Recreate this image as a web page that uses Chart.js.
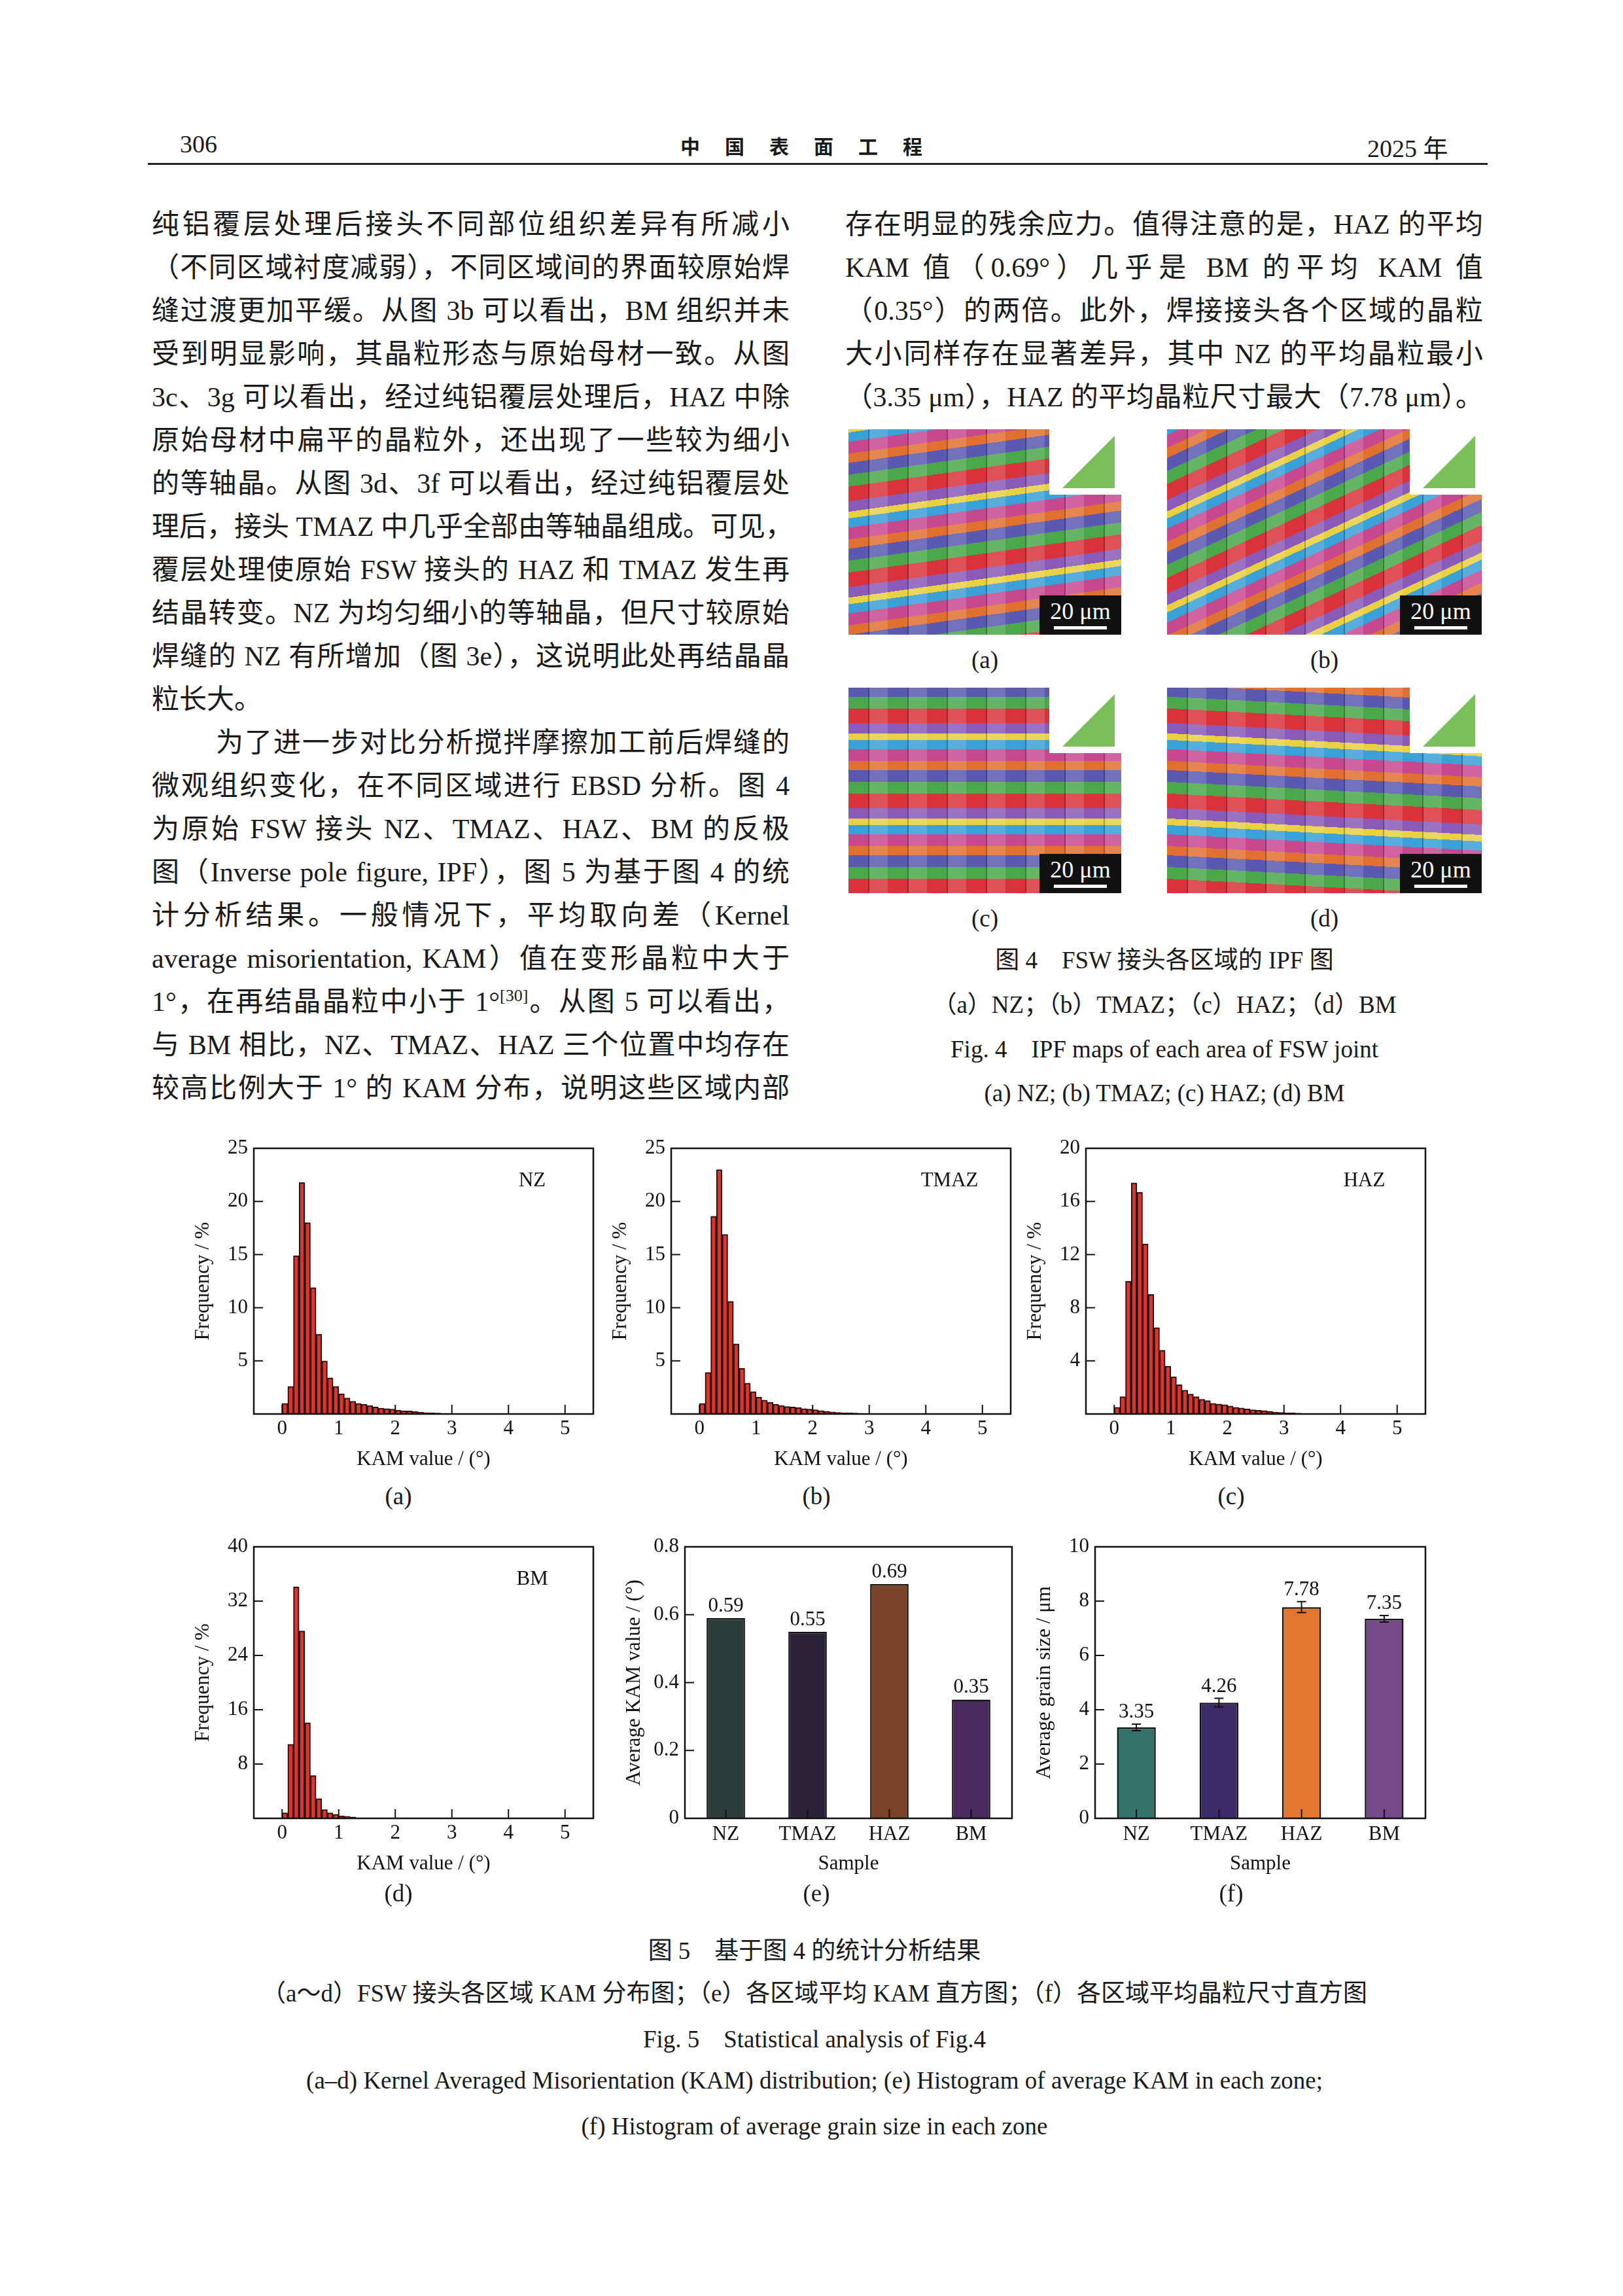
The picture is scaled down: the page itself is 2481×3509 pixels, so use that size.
<!DOCTYPE html>
<html><head><meta charset="utf-8">
<script src="https://cdn.jsdelivr.net/npm/chart.js@4.4.1/dist/chart.umd.min.js"></script>
<style>
body{margin:0;width:2481px;height:3509px;background:#fff;position:relative;overflow:hidden;font-family:"Liberation Serif","Noto Sans CJK SC",serif;color:#1a1a1a}
.t{position:absolute;white-space:nowrap}
.ln{position:absolute;font-family:"Liberation Serif","Noto Sans CJK SC";font-size:42px;text-align:justify;text-align-last:justify;white-space:nowrap;height:60px;line-height:60px}
.cap{position:absolute;font-size:37px;text-align:center;white-space:nowrap;line-height:50px}
canvas{position:absolute}
.ipf{position:absolute;overflow:hidden}
.sb{position:absolute;right:0;bottom:0;width:125px;height:60px;background:#111;color:#fff;font-size:36px;text-align:center;line-height:48px}
.sb:after{content:"";position:absolute;left:22px;right:22px;bottom:8px;height:5px;background:#fff}
.leg{position:absolute;right:0;top:0;width:110px;height:100px;background:#fff}
.leg:after{content:"";position:absolute;left:20px;top:10px;width:0;height:0;border-left:80px solid transparent;border-bottom:80px solid #7bbf5a}
</style></head><body>
<div class="t" style="left:275px;top:198px;font-size:38px">306</div>
<div class="t" style="left:1040px;top:200px;font-size:30px;font-weight:bold;letter-spacing:38px;font-family:'Noto Sans CJK SC'">中国表面工程</div>
<div class="t" style="left:2090px;top:196px;font-size:38px">2025 年</div>
<div style="position:absolute;left:226px;top:249px;width:2048px;height:3px;background:#222"></div>
<div id="txt"></div>
<div id="ipfs"></div>
<canvas id="ca"></canvas><canvas id="cb"></canvas><canvas id="cc"></canvas>
<canvas id="cd"></canvas><canvas id="ce"></canvas><canvas id="cf"></canvas>
<div id="caps"></div>
<script>
// ---------- DATA ----------
const binWidth = 0.1;
const kamNZ   = [1.0,2.6,14.9,21.8,18.0,11.9,7.5,5.0,3.4,2.6,1.9,1.5,1.2,1.0,0.9,0.8,0.65,0.55,0.5,0.45,0.35,0.3,0.28,0.22,0.18,0.14,0.1,0.08,0.06,0.05,0.03,0.02];
const kamTMAZ = [1.0,3.9,18.6,23.0,16.9,10.6,6.6,4.3,2.9,2.1,1.6,1.3,1.1,0.9,0.8,0.7,0.65,0.6,0.5,0.45,0.4,0.32,0.25,0.2,0.15,0.12,0.1,0.08,0.06,0.04];
const kamHAZ  = [0.5,1.3,10.0,17.4,16.7,12.8,9.0,6.5,4.8,3.6,2.8,2.2,1.8,1.5,1.3,1.1,1.0,0.8,0.75,0.7,0.6,0.5,0.45,0.38,0.32,0.28,0.25,0.2,0.15,0.12,0.1,0.08,0.06];
const kamBM   = [0.8,10.9,34.1,27.6,14.1,6.3,2.9,1.3,0.8,0.6,0.35,0.3,0.2];
const zones = ["NZ","TMAZ","HAZ","BM"];
const avgKAM = [0.59,0.55,0.69,0.35];
const avgKAMColors = ["#2a3d39","#2b2139","#7a4226","#4a2a5f"];
const grain = [3.35,4.26,7.78,7.35];
const grainErr = [0.12,0.16,0.2,0.12];
const grainColors = ["#35736a","#3d2a6a","#e4772f","#744a8b"];

// ---------- TEXT ----------
const left = ["纯铝覆层处理后接头不同部位组织差异有所减小","（不同区域衬度减弱），不同区域间的界面较原始焊","缝过渡更加平缓。从图 3b 可以看出，BM 组织并未","受到明显影响，其晶粒形态与原始母材一致。从图","3c、3g 可以看出，经过纯铝覆层处理后，HAZ 中除","原始母材中扁平的晶粒外，还出现了一些较为细小","的等轴晶。从图 3d、3f 可以看出，经过纯铝覆层处","理后，接头 TMAZ 中几乎全部由等轴晶组成。可见，","覆层处理使原始 FSW 接头的 HAZ 和 TMAZ 发生再","结晶转变。NZ 为均匀细小的等轴晶，但尺寸较原始","焊缝的 NZ 有所增加（图 3e），这说明此处再结晶晶","粒长大。","为了进一步对比分析搅拌摩擦加工前后焊缝的","微观组织变化，在不同区域进行 EBSD 分析。图 4","为原始 FSW 接头 NZ、TMAZ、HAZ、BM 的反极","图（Inverse pole figure, IPF），图 5 为基于图 4 的统","计分析结果。一般情况下，平均取向差（Kernel","average misorientation, KAM）值在变形晶粒中大于","1°，在再结晶晶粒中小于 1°<sup style='font-size:26px;line-height:0'>[30]</sup>。从图 5 可以看出，","与 BM 相比，NZ、TMAZ、HAZ 三个位置中均存在","较高比例大于 1° 的 KAM 分布，说明这些区域内部"];
const right = ["存在明显的残余应力。值得注意的是，HAZ 的平均","KAM 值（0.69°）几乎是 BM 的平均 KAM 值","（0.35°）的两倍。此外，焊接接头各个区域的晶粒","大小同样存在显著差异，其中 NZ 的平均晶粒最小","（3.35 μm），HAZ 的平均晶粒尺寸最大（7.78 μm）。"];
let h='';
left.forEach((s,i)=>{
  const y = 343 + i*66 - 30;
  const indent = (i===12)?98:0;
  const last = (i===11);
  h+=`<div class="ln" style="left:${232+indent}px;top:${y}px;width:${last?300:975-indent}px;${last?'text-align-last:left;':''}">${s}</div>`;
});
right.forEach((s,i)=>{
  h+=`<div class="ln" style="left:1292px;top:${343+i*66-30}px;width:975px">${s}</div>`;
});
document.getElementById('txt').innerHTML=h;

// IPF placeholders
const ipfBoxes=[[1297,656,417,314,"(a)","-8deg"],[1784,656,481,314,"(b)","-25deg"],[1297,1051,417,314,"(c)","0deg"],[1784,1051,481,314,"(d)","3deg"]];
let g='';
ipfBoxes.forEach(b=>{
  g+=`<div class="ipf" style="left:${b[0]}px;top:${b[1]}px;width:${b[2]}px;height:${b[3]}px;background:
  repeating-linear-gradient(${b[5]},#d9323a 0 22px,#4aa84a 22px 40px,#5a58b0 40px 58px,#e07030 58px 72px,#c84890 72px 90px,#3aa0d8 90px 104px,#e8d040 104px 114px,#8a5ab8 114px 130px),#888;">
  <div style="position:absolute;inset:0;background:repeating-linear-gradient(90deg,rgba(255,255,255,0) 0 30px,rgba(0,0,0,.25) 30px 32px,rgba(255,255,255,.15) 32px 60px)"></div>
  <div class="leg"></div><div class="sb">20 μm</div></div>`;
  g+=`<div class="cap" style="left:${b[0]+b[2]/2-50}px;top:${b[1]+b[3]+14}px;width:100px">${b[4]}</div>`;
});
document.getElementById('ipfs').innerHTML=g;

const caps=[[1780,1443,"图 4　FSW 接头各区域的 IPF 图"],[1780,1511,"（a）NZ；（b）TMAZ；（c）HAZ；（d）BM"],[1780,1579,"Fig. 4　IPF maps of each area of FSW joint"],[1780,1646,"(a) NZ; (b) TMAZ; (c) HAZ; (d) BM"],
[1245,2957,"图 5　基于图 4 的统计分析结果"],[1245,3022,"（a～d）FSW 接头各区域 KAM 分布图；（e）各区域平均 KAM 直方图；（f）各区域平均晶粒尺寸直方图"],[1245,3092,"Fig. 5　Statistical analysis of Fig.4"],[1245,3155,"(a–d) Kernel Averaged Misorientation (KAM) distribution; (e) Histogram of average KAM in each zone;"],[1245,3225,"(f) Histogram of average grain size in each zone"],
[609,2262,"(a)"],[1248,2262,"(b)"],[1882,2262,"(c)"],[609,2869,"(d)"],[1248,2869,"(e)"],[1882,2869,"(f)"]];
let c='';
caps.forEach(k=>{c+=`<div class="cap" style="left:${k[0]-1100}px;top:${k[1]}px;width:2200px">${k[2]}</div>`;});
document.getElementById('caps').innerHTML=c;

// ---------- CHARTS ----------
const FONT={family:"Liberation Serif",size:31};
const boxPlugin={id:'boxp',afterDatasetsDraw(ch,args,opt){
  const a=ch.chartArea,x=ch.ctx;x.save();x.strokeStyle='#111';x.lineWidth=2.5;
  x.strokeRect(a.left,a.top,a.right-a.left,a.bottom-a.top);
  x.lineWidth=2;
  const xs=ch.scales.x, ys=ch.scales.y;
  if(opt.xticks){xs.ticks.forEach(t=>{const p=xs.getPixelForValue(t.value);x.beginPath();x.moveTo(p,a.bottom);x.lineTo(p,a.bottom-14);x.stroke();});}
  else {ch.data.labels.forEach((l,i)=>{const p=xs.getPixelForValue(i);x.beginPath();x.moveTo(p,a.bottom);x.lineTo(p,a.bottom-14);x.stroke();});}
  ys.ticks.forEach(t=>{const p=ys.getPixelForValue(t.value);x.beginPath();x.moveTo(a.left,p);x.lineTo(a.left+14,p);x.stroke();});
  if(opt.tag){x.fillStyle='#111';x.font='31px "Liberation Serif"';x.textAlign='center';x.fillText(opt.tag,a.left+(a.right-a.left)*opt.tagX,a.top+58);}
  if(opt.err){const m=ch.getDatasetMeta(0);m.data.forEach((b,i)=>{const v=ch.data.datasets[0].data[i],e=opt.err[i];
    const t=ys.getPixelForValue(v+e),bt=ys.getPixelForValue(v-e);x.beginPath();x.moveTo(b.x,t);x.lineTo(b.x,bt);
    x.moveTo(b.x-7,t);x.lineTo(b.x+7,t);x.moveTo(b.x-7,bt);x.lineTo(b.x+7,bt);x.stroke();});}
  if(opt.vals){const m=ch.getDatasetMeta(0);x.font='31px "Liberation Serif"';x.textAlign='center';x.fillStyle='#111';
    m.data.forEach((b,i)=>{const v=ch.data.datasets[0].data[i];const top=opt.err?ys.getPixelForValue(v+opt.err[i]):b.y;x.fillText(v.toFixed(2),b.x,top-10);});}
  x.restore();}};

const PL=100,PT=30,PR=40,PB=92;
function place(id,bx,by,bw,bh){
  const el=document.getElementById(id);
  el.style.left=(bx-PL)+'px';el.style.top=(by-PT)+'px';
  el.style.width=(bw+PL+PR)+'px';el.style.height=(bh+PT+PB)+'px';
  el.width=bw+PL+PR;el.height=bh+PT+PB;return el;
}
function hist(id,bx,by,bw,bh,vals,ymax,ystep,tag,tagX){
  const el=place(id,bx,by,bw,bh);
  new Chart(el,{type:'bar',
    data:{datasets:[{data:vals.map((v,i)=>({x:binWidth*(i+0.5),y:v})),backgroundColor:'#d7372f',borderColor:'#2a0a08',borderWidth:2,barPercentage:1,categoryPercentage:1}]},
    options:{responsive:false,animation:false,devicePixelRatio:1,layout:{padding:{top:PT,right:PR}},
      plugins:{legend:{display:false},tooltip:{enabled:false},boxp:{xticks:true,tag:tag,tagX:tagX}},
      scales:{x:{type:'linear',min:0,max:5,ticks:{stepSize:1,font:FONT,color:'#111',padding:4},grid:{display:false,drawTicks:false},border:{display:false},
          title:{display:true,text:'KAM value / (°)',font:FONT,color:'#111',padding:{top:14}},afterFit(s){s.height=PB;}},
        y:{min:0,max:ymax,ticks:{stepSize:ystep,font:FONT,color:'#111',padding:9,callback:v=>v===0?'':v},grid:{display:false,drawTicks:false},border:{display:false},
          title:{display:true,text:'Frequency / %',font:FONT,color:'#111',padding:{bottom:4}},afterFit(s){s.width=PL;}}}},
    plugins:[boxPlugin]});
}
hist('ca',388,1755,519,406,kamNZ,25,5,'NZ',0.82);
hist('cb',1026,1755,519,406,kamTMAZ,25,5,'TMAZ',0.82);
hist('cc',1660,1755,519,406,kamHAZ,20,4,'HAZ',0.82);
hist('cd',388,2364,519,415,kamBM,40,8,'BM',0.82);

function barc(id,bx,by,bw,bh,vals,cols,ymax,ystep,ytitle,err,fmt){
  const el=place(id,bx,by,bw,bh);
  new Chart(el,{type:'bar',
    data:{labels:zones,datasets:[{data:vals,backgroundColor:cols,borderColor:'#111',borderWidth:2.5,barPercentage:0.47,categoryPercentage:1}]},
    options:{responsive:false,animation:false,devicePixelRatio:1,layout:{padding:{top:PT,right:PR}},
      plugins:{legend:{display:false},tooltip:{enabled:false},boxp:{xticks:false,vals:true,err:err}},
      scales:{x:{ticks:{font:FONT,color:'#111',padding:6},grid:{display:false,offset:true,drawTicks:false},border:{display:false},
          title:{display:true,text:'Sample',font:FONT,color:'#111',padding:{top:2}},afterFit(s){s.height=PB;}},
        y:{min:0,max:ymax,ticks:{stepSize:ystep,font:FONT,color:'#111',padding:9,callback:fmt},grid:{display:false,drawTicks:false},border:{display:false},
          title:{display:true,text:ytitle,font:FONT,color:'#111',padding:{bottom:0}},afterFit(s){s.width=PL;}}}},
    plugins:[boxPlugin]});
}
barc('ce',1047,2364,500,415,avgKAM,avgKAMColors,0.8,0.2,'Average KAM value / (°)',null,v=>v===0?'0':v.toFixed(1));
barc('cf',1674,2364,505,415,grain,grainColors,10,2,'Average grain size / μm',grainErr,v=>v);
</script>
</body></html>
